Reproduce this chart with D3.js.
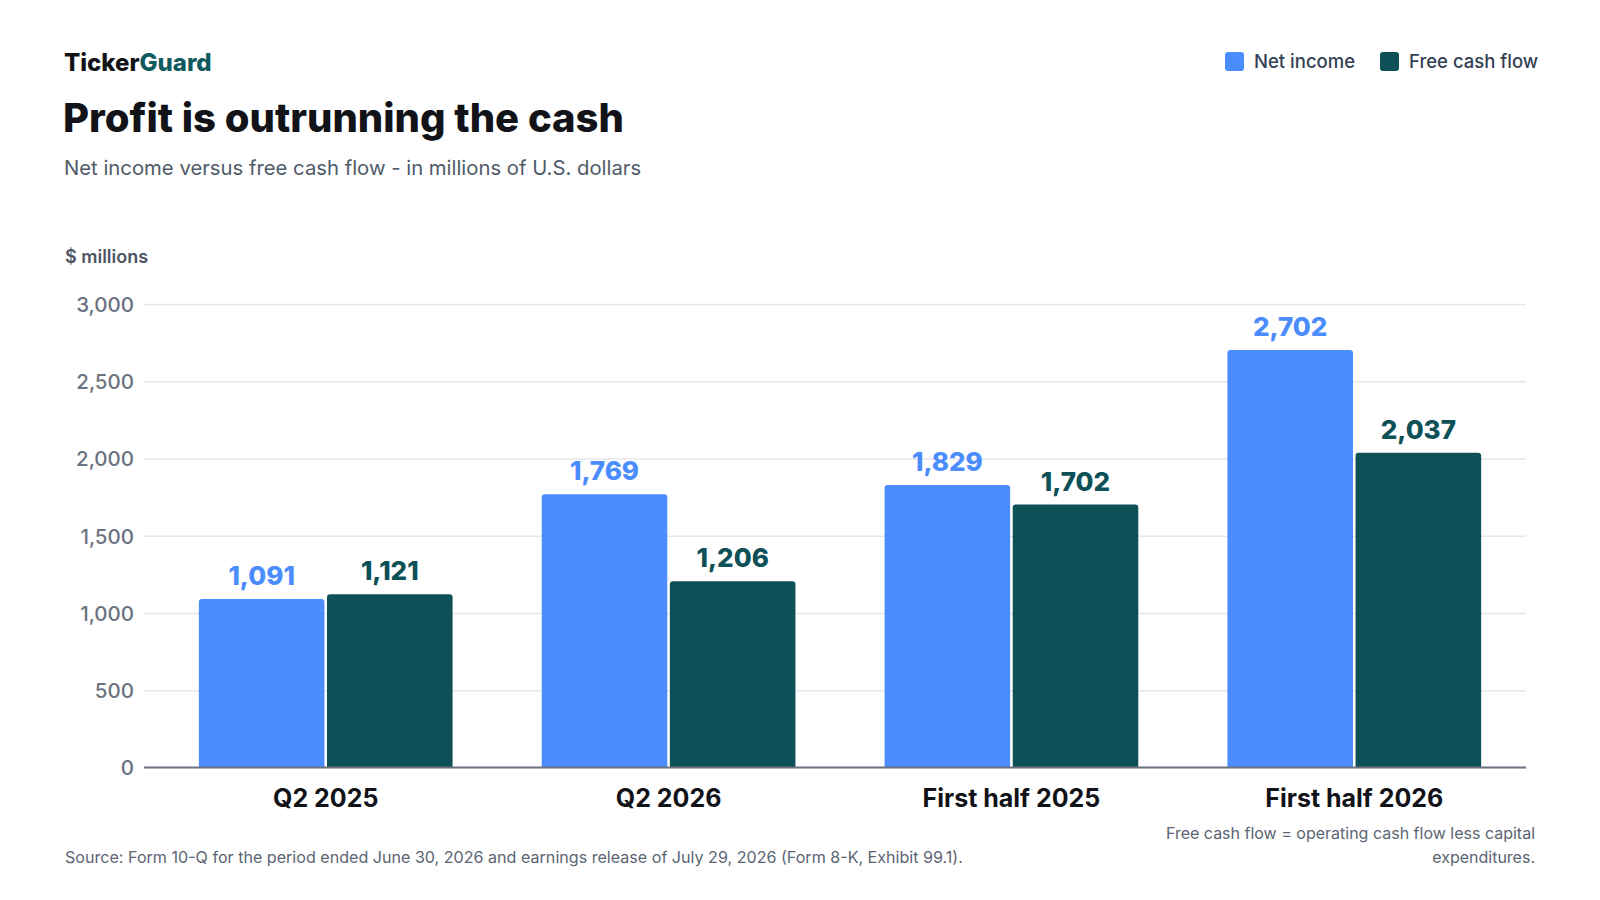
<!DOCTYPE html>
<html>
<head>
<meta charset="utf-8">
<script src="https://cdn.jsdelivr.net/npm/d3@7"></script>
<style>
  body { margin: 0; background: #fff; }
  svg { font-family: Inter, "Noto Sans", sans-serif; }
</style>
</head>
<body>
<svg class="chart" width="1600" height="900"></svg>
<script>
// chart values
var categories = ["Q2 2025", "Q2 2026", "First half 2025", "First half 2026"];
var seriesNames = ["Net income", "Free cash flow"];
var netIncome = [1091, 1769, 1829, 2702];
var freeCashFlow = [1121, 1206, 1702, 2037];
var yTicks = [0, 500, 1000, 1500, 2000, 2500, 3000];

var colors = { "Net income": "#4b8dff", "Free cash flow": "#0e5057" };

var svg = d3.select("svg.chart");

// build rows for the grouped bars
var rows = categories.map(function(c, i) {
    return { cat: c, values: [
        { key: "Net income", value: netIncome[i] },
        { key: "Free cash flow", value: freeCashFlow[i] }
    ]};
});

var yscale = d3.scaleLinear().domain([0, 3000]).range([767.5, 304]);

var x0 = d3.scaleBand()
    .domain(categories)
    .range([154.3, 1525.7])
    .paddingInner(0.26)
    .paddingOuter(0.13);

var x1 = d3.scaleBand()
    .domain(seriesNames)
    .range([0, x0.bandwidth()])
    .paddingInner(0.02);

// header
var brand = svg.append("text").attr("x", 64).attr("y", 70.5)
    .style("font-size", "24px").style("font-weight", 800);
brand.append("tspan").text("Ticker").style("fill", "#111318");
brand.append("tspan").text("Guard").style("fill", "#0e5a5e");

svg.append("text").attr("x", 63).attr("y", 131.5)
    .text("Profit is outrunning the cash")
    .style("font-size", "40px").style("font-weight", 800).style("fill", "#111318");

svg.append("text").attr("x", 64).attr("y", 175)
    .text("Net income versus free cash flow - in millions of U.S. dollars")
    .style("font-size", "20.3px").style("fill", "#4f5b69");

// legend
var legend = svg.append("g");
var legendX = [1225, 1380];
seriesNames.forEach(function(name, i) {
    legend.append("rect").attr("x", legendX[i]).attr("y", 52)
        .attr("width", 19).attr("height", 19).attr("rx", 3)
        .style("fill", colors[name]);
    legend.append("text").attr("x", legendX[i] + 29).attr("y", 67.7)
        .text(name)
        .style("font-size", "18.5px").style("font-weight", 500).style("fill", "#334155");
});

// axis title
svg.append("text").attr("x", 65).attr("y", 263)
    .text("$ millions")
    .style("font-size", "18px").style("font-weight", 600).style("fill", "#4b5563");

// gridlines + y ticks
var yAxis = d3.axisLeft(yscale)
    .tickValues(yTicks)
    .tickSize(-(1526 - 144))
    .tickFormat(d3.format(","))
    .tickPadding(10);

var gy = svg.append("g").attr("transform", "translate(144,0)").call(yAxis);
gy.select(".domain").remove();
gy.selectAll(".tick line").style("stroke", "#e5e7eb").style("stroke-width", 1.5);
gy.selectAll(".tick text")
    .style("font-size", "20.5px").style("font-weight", 500).style("font-family", "Inter, sans-serif")
    .style("fill", "#6b7280").attr("dy", "0.36em");

// bars
var groups = svg.append("g").selectAll("g.group")
    .data(rows)
    .enter().append("g")
    .attr("class", "group")
    .attr("transform", function(d) { return "translate(" + x0(d.cat) + ",0)"; });

function topRounded(x, y, w, h, r) {
    return "M" + x + "," + (y + h) +
        "V" + (y + r) +
        "Q" + x + "," + y + " " + (x + r) + "," + y +
        "H" + (x + w - r) +
        "Q" + (x + w) + "," + y + " " + (x + w) + "," + (y + r) +
        "V" + (y + h) + "Z";
}

groups.selectAll("path.bar")
    .data(function(d) { return d.values; })
    .enter().append("path")
    .attr("class", "bar")
    .attr("d", function(d) {
        var y = yscale(d.value);
        return topRounded(x1(d.key), y, x1.bandwidth(), yscale(0) - y, 3);
    })
    .style("fill", function(d) { return colors[d.key]; });

groups.selectAll("text.val")
    .data(function(d) { return d.values; })
    .enter().append("text")
    .attr("class", "val")
    .attr("x", function(d) { return x1(d.key) + x1.bandwidth() / 2; })
    .attr("y", function(d) { return yscale(d.value) - 14; })
    .attr("text-anchor", "middle")
    .text(function(d) { return d3.format(",")(d.value); })
    .style("font-size", "26px").style("font-weight", 800)
    .style("fill", function(d) { return colors[d.key]; });

// baseline
svg.append("line")
    .attr("x1", 144).attr("x2", 1526)
    .attr("y1", yscale(0)).attr("y2", yscale(0))
    .style("stroke", "#6b7280").style("stroke-width", 2);

// category labels
var xAxis = d3.axisBottom(x0).tickSize(0).tickPadding(0);
var gx = svg.append("g").attr("transform", "translate(0," + yscale(0) + ")").call(xAxis);
gx.select(".domain").remove();
gx.selectAll(".tick text")
    .attr("dy", 0).attr("y", 39)
    .style("font-size", "25px").style("font-weight", 700)
    .style("font-family", "Inter, sans-serif").style("fill", "#111318");

// footer
svg.append("text").attr("x", 65).attr("y", 863.3)
    .text("Source: Form 10-Q for the period ended June 30, 2026 and earnings release of July 29, 2026 (Form 8-K, Exhibit 99.1).")
    .style("font-size", "16.1px").style("fill", "#5b6573");

var note = svg.append("text").attr("text-anchor", "end")
    .style("font-size", "16px").style("fill", "#5b6573");
note.append("tspan").attr("x", 1535).attr("y", 839.3).text("Free cash flow = operating cash flow less capital");
note.append("tspan").attr("x", 1535).attr("y", 863.3).text("expenditures.");
</script>
</body>
</html>
